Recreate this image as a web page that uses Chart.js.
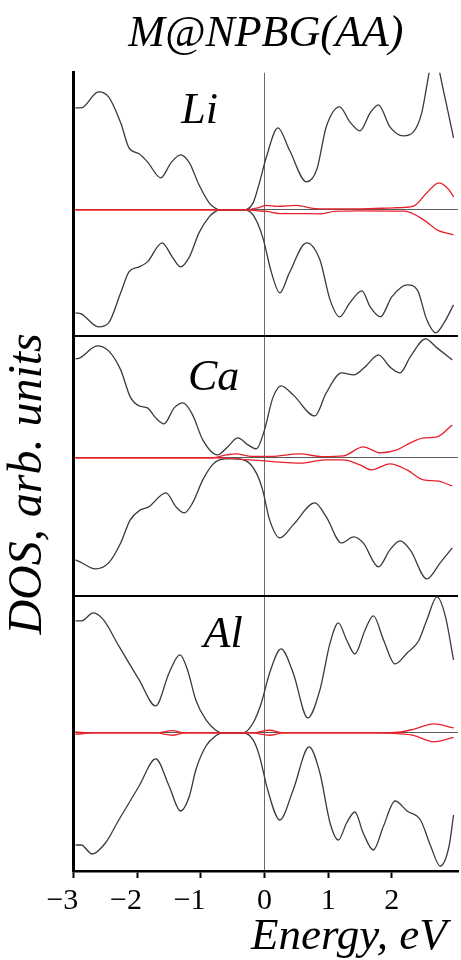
<!DOCTYPE html>
<html>
<head>
<meta charset="utf-8">
<title>M@NPBG(AA) DOS</title>
<script src="https://cdn.jsdelivr.net/npm/chart.js@4.4.1/dist/chart.umd.min.js"></script>
<style>
    html, body { margin: 0; padding: 0; background: #fff; }
    #wrap { width: 461px; height: 960px; }
</style>
</head>
<body>
<div id="wrap"><canvas id="dosChart" width="461" height="960"></canvas></div>
<script>
// Energy tick labels (eV)
const xTicks = [-3, -2, -1, 0, 1, 2];

// Li panel - total DOS spin up / spin down, metal PDOS (red)
const liUpE = [-2.97, -2.88, -2.61, -2.45, -2.26, -2.13, -1.97, -1.84, -1.63, -1.47, -1.32, -1.18, -1.03, -0.87, -0.78, -0.71, -0.32, -0.18, -0.08, 0.03, 0.21, 0.39, 0.66, 0.82, 0.97, 1.18, 1.34, 1.50, 1.66, 1.79, 1.97, 2.18, 2.34, 2.47, 2.58, 2.67, 2.76, 2.90, 2.97];
const liUp  = [102, 102, 118, 113, 87, 62, 56, 48, 32, 47, 55, 47, 25, 7, 2, 0, 0, 7, 27, 53, 82, 60, 28, 40, 83, 103, 88, 79, 97, 105, 83, 74, 78, 97, 135, 165, 135, 93, 72];
const liDnE = [-2.97, -2.88, -2.61, -2.45, -2.26, -2.13, -1.97, -1.84, -1.61, -1.45, -1.32, -1.18, -1.03, -0.87, -0.78, -0.71, -0.32, -0.18, -0.03, 0.11, 0.24, 0.39, 0.66, 0.87, 1.03, 1.18, 1.34, 1.53, 1.66, 1.82, 2.00, 2.24, 2.40, 2.55, 2.69, 2.82, 2.97];
const liDn  = [-103, -104, -117, -113, -83, -62, -57, -52, -33, -47, -57, -47, -23, -7, -2, 0, 0, -5, -27, -63, -83, -63, -33, -50, -90, -107, -93, -81, -97, -107, -87, -75, -80, -110, -123, -113, -95];
const liRedUpE = [-2.97, -0.3, -0.1, 0.03, 0.2, 0.5, 0.76, 1.0, 1.5, 2.03, 2.34, 2.55, 2.74, 2.9, 2.97];
const liRedUp  = [0, 0, 2, 4.5, 3.5, 4.5, 1.5, 1, 1, 2, 3.7, 17, 27, 20, 13];
const liRedDnE = [-2.97, -0.3, -0.1, 0.03, 0.24, 0.55, 0.87, 1.1, 1.5, 2.2, 2.5, 2.71, 2.97];
const liRedDn  = [0, 0, -1, -1.5, -3.7, -3.7, -4, -1.5, -1, -1.3, -10, -20, -25];

// Ca panel
const caUpE = [-2.97, -2.9, -2.63, -2.45, -2.26, -2.11, -1.97, -1.84, -1.71, -1.58, -1.42, -1.28, -1.13, -0.97, -0.74, -0.58, -0.42, -0.26, -0.13, 0.0, 0.13, 0.26, 0.45, 0.79, 0.97, 1.21, 1.40, 1.58, 1.79, 1.97, 2.13, 2.29, 2.53, 2.71, 2.95];
const caUp  = [99, 100, 112, 107, 88, 61, 52, 50, 40, 34, 50, 55, 43, 18, 3, 11, 20, 13, 9, 28, 60, 72, 63, 42, 65, 85, 83, 91, 103, 91, 85, 101, 119, 110, 98];
const caDnE = [-2.97, -2.9, -2.66, -2.45, -2.26, -2.11, -1.95, -1.82, -1.55, -1.39, -1.26, -1.13, -0.97, -0.82, -0.71, -0.5, -0.29, -0.13, -0.03, 0.08, 0.24, 0.45, 0.79, 0.97, 1.21, 1.40, 1.55, 1.79, 1.97, 2.13, 2.29, 2.55, 2.76, 2.95];
const caDn  = [-102, -104, -111, -105, -85, -62, -52, -49, -35, -49, -55, -45, -22, -7, -2, -0.7, -3, -15, -32, -62, -80, -67, -45, -59, -85, -79, -85, -109, -92, -83, -92, -121, -105, -90];
const caRedUpE = [-2.97, -0.85, -0.6, -0.45, -0.2, 0.1, 0.55, 0.9, 1.24, 1.55, 1.82, 2.08, 2.29, 2.5, 2.71, 2.95];
const caRedUp  = [0, 0, 3, 4, 1.5, 1.5, 4, 1.3, 2, 11, 5, 8, 15, 20, 21, 33];
const caRedDnE = [-2.97, -0.75, -0.4, -0.05, 0.24, 0.55, 0.95, 1.24, 1.5, 1.68, 1.97, 2.24, 2.5, 2.71, 2.95];
const caRedDn  = [0, 0, -1.3, -2.7, -4.3, -5.3, -2, -2, -7, -12, -6, -12, -22, -23, -28];

// Al panel
const alUpE = [-2.97, -2.88, -2.69, -2.53, -2.29, -1.97, -1.71, -1.50, -1.33, -1.21, -1.08, -0.92, -0.77, -0.66, -0.34, -0.18, -0.05, 0.08, 0.26, 0.45, 0.68, 0.87, 1.03, 1.16, 1.29, 1.42, 1.58, 1.71, 1.87, 2.05, 2.24, 2.42, 2.55, 2.71, 2.84, 2.97];
const alUp  = [112, 112, 120, 113, 87, 53, 27, 60, 78, 63, 33, 13, 3, 0, 0, 10, 30, 60, 84, 60, 15, 43, 90, 110, 93, 79, 103, 117, 93, 69, 80, 92, 113, 136, 117, 73];
const alDnE = [-2.97, -2.88, -2.71, -2.5, -2.29, -1.97, -1.71, -1.5, -1.32, -1.18, -1.08, -0.92, -0.77, -0.66, -0.34, -0.18, -0.08, 0.05, 0.24, 0.45, 0.70, 0.87, 1.03, 1.16, 1.29, 1.42, 1.55, 1.71, 1.87, 2.05, 2.24, 2.45, 2.61, 2.76, 2.9, 2.97];
const alDn  = [-112, -112, -121, -110, -87, -53, -26, -53, -78, -63, -37, -13, -3, 0, 0, -7, -23, -57, -87, -57, -14, -40, -90, -107, -90, -79, -100, -117, -93, -68, -78, -87, -113, -133, -113, -82];
const alRedUpE = [-2.97, -2.7, -1.7, -1.45, -1.25, -0.2, 0.08, 0.3, 1.8, 2.1, 2.34, 2.66, 2.97];
const alRedUp  = [1, 0, 0, 2.3, 0, 0, 2.7, 0, 0, 0.7, 3.7, 9, 5];
const alRedDnE = [-2.97, -2.7, -1.7, -1.45, -1.25, -0.2, 0.08, 0.3, 1.8, 2.1, 2.34, 2.66, 2.97];
const alRedDn  = [-1.3, 0, 0, -2.3, 0, 0, -2.3, 0, 0, -0.7, -2.3, -8.7, -4.3];

const SERIF = '"Liberation Serif", "Times New Roman", serif';
const BLACK = '#3a3a3a';
const RED = '#e8202a';

function pts(es, vs) {
    return es.map((e, i) => ({ x: e, y: vs[i] }));
}

function curve(es, vs, axis, color) {
    return {
        data: pts(es, vs),
        yAxisID: axis,
        borderColor: color,
        borderWidth: 1.3,
        pointRadius: 0,
        fill: false,
        cubicInterpolationMode: 'monotone'
    };
}

// y axis for one stacked panel; zero line + black separator at the bottom
function panelAxis(min, max, height, order) {
    return {
        type: 'linear',
        position: 'left',
        stack: 'dos',
        stackWeight: height,
        weight: order,
        min: min,
        max: max,
        offset: false,
        afterBuildTicks: s => { s.ticks = [{ value: min }, { value: 0 }]; },
        ticks: { display: false },
        grid: {
            drawTicks: false,
            color: ctx => ctx.tick && ctx.tick.value === 0 ? '#5a5a5a' : '#000',
            lineWidth: ctx => ctx.tick && ctx.tick.value === 0 ? 1 : 2
        },
        border: { display: true, color: '#000', width: 3 }
    };
}

// Panel element names written inside each panel
const panelLabels = {
    id: 'panelLabels',
    afterDatasetsDraw(chart, args, opts) {
        const ctx = chart.ctx;
        const x = chart.scales.x;
        ctx.save();
        ctx.font = 'italic 44px ' + SERIF;
        ctx.fillStyle = '#000';
        ctx.textAlign = 'center';
        ctx.textBaseline = 'alphabetic';
        opts.items.forEach(item => {
            const y = chart.scales[item.axis];
            ctx.fillText(item.text, x.getPixelForValue(item.e), y.getPixelForValue(item.v));
        });
        ctx.restore();
    }
};

document.addEventListener('DOMContentLoaded', function() {
    Chart.defaults.font.family = SERIF;
    Chart.defaults.color = '#000';

    const ctx = document.getElementById('dosChart').getContext('2d');
    new Chart(ctx, {
        type: 'line',
        data: {
            datasets: [
                curve(liRedUpE, liRedUp, 'yLi', RED),
                curve(liRedDnE, liRedDn, 'yLi', RED),
                curve(caRedUpE, caRedUp, 'yCa', RED),
                curve(caRedDnE, caRedDn, 'yCa', RED),
                curve(alRedUpE, alRedUp, 'yAl', RED),
                curve(alRedDnE, alRedDn, 'yAl', RED),
                curve(liUpE, liUp, 'yLi', BLACK),
                curve(liDnE, liDn, 'yLi', BLACK),
                curve(caUpE, caUp, 'yCa', BLACK),
                curve(caDnE, caDn, 'yCa', BLACK),
                curve(alUpE, alUp, 'yAl', BLACK),
                curve(alDnE, alDn, 'yAl', BLACK)
            ]
        },
        plugins: [panelLabels],
        options: {
            responsive: false,
            animation: false,
            layout: { padding: { left: 0, right: 3, top: 0, bottom: 0 } },
            plugins: {
                legend: { display: false },
                tooltip: { enabled: false },
                title: {
                    display: true,
                    text: 'M@NPBG(AA)',
                    fullSize: false,
                    color: '#000',
                    font: { size: 44, style: 'italic', weight: 'normal', lineHeight: 1.2 },
                    padding: { top: 8, bottom: 12 }
                },
                panelLabels: {
                    items: [
                        { text: 'Li', axis: 'yLi', e: -1.02, v: 87 },
                        { text: 'Ca', axis: 'yCa', e: -0.80, v: 68 },
                        { text: 'Al', axis: 'yAl', e: -0.65, v: 86 }
                    ]
                }
            },
            scales: {
                x: {
                    type: 'linear',
                    min: -3,
                    max: 3.04,
                    afterBuildTicks: s => { s.ticks = xTicks.map(v => ({ value: v })); },
                    ticks: {
                        color: '#000',
                        padding: 8,
                        maxRotation: 0,
                        autoSkip: false,
                        font: { size: 30, lineHeight: 1 },
                        // minus hangs to the left of the digit, as in the original
                        callback: v => v < 0 ? '\u2212' + (-v) + '   ' : String(v)
                    },
                    grid: {
                        color: ctx => ctx.tick && ctx.tick.value === 0 ? '#6a6a6a' : 'rgba(0,0,0,0)',
                        lineWidth: 1,
                        tickColor: '#000',
                        tickWidth: 2,
                        tickLength: 7
                    },
                    border: { display: true, color: '#000', width: 2.5 },
                    title: {
                        display: true,
                        text: 'Energy, eV ',
                        align: 'end',
                        color: '#000',
                        font: { size: 45, style: 'italic', lineHeight: 1 },
                        padding: { top: -9, bottom: 0 }
                    }
                },
                yTitle: {
                    type: 'linear',
                    position: 'left',
                    weight: 10,
                    ticks: { display: false },
                    grid: { display: false, drawTicks: false },
                    border: { display: false },
                    title: {
                        display: true,
                        text: 'DOS, arb. units  ',
                        color: '#000',
                        font: { size: 48, style: 'italic', lineHeight: 1.2 },
                        padding: { top: 0, bottom: 16 }
                    }
                },
                yLi: panelAxis(-126, 137, 263, 3),
                yCa: panelAxis(-138, 122, 260, 2),
                yAl: panelAxis(-138, 137, 275, 1)
            }
        }
    });
});
</script>
</body>
</html>
